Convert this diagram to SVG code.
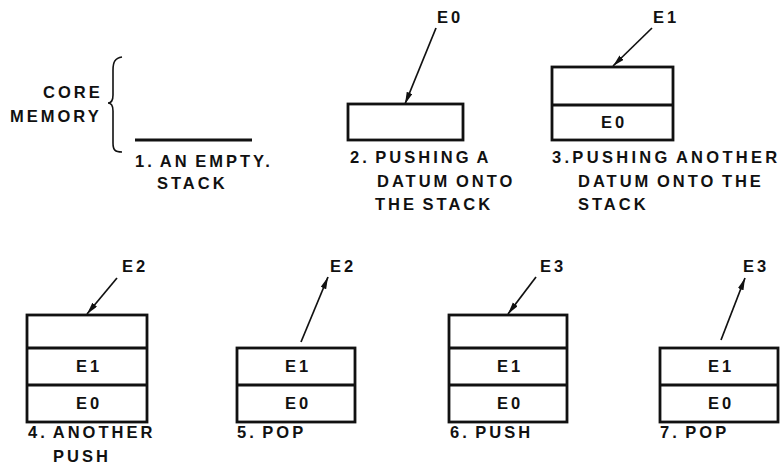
<svg xmlns="http://www.w3.org/2000/svg" width="780" height="476" viewBox="0 0 780 476">
<defs>
<style>
text{font-family:"Liberation Sans",Arial,sans-serif;font-weight:bold;font-size:16.5px;fill:#111;letter-spacing:3px;word-spacing:-2px}
.c{text-anchor:middle}
.box{fill:none;stroke:#111;stroke-width:2.8}
.div{stroke:#111;stroke-width:2.8}
.arr{stroke:#111;stroke-width:1.7;fill:none;marker-end:url(#ah)}
</style>
<marker id="ah" markerUnits="userSpaceOnUse" markerWidth="14" markerHeight="8" refX="12" refY="3" orient="auto">
<path d="M0,0 L12,3 L0,6 z" fill="#111"/>
</marker>
</defs>
<rect width="780" height="476" fill="#fff"/>
<g id="core-memory">
<path d="M122,57 C115,58 113,62 113,70 L113,95 C113,100 111,103 108,103 C111,103 113,106 113,111 L113,143 C113,150 115,152 122,152" fill="none" stroke="#111" stroke-width="1.6"/>
<text x="43" y="98">CORE</text>
<text x="10" y="122">MEMORY</text>
</g>
<g id="step1">
<line x1="135" y1="140" x2="252" y2="140" stroke="#111" stroke-width="3"/>
<text x="135" y="167">1. AN EMPTY.</text>
<text x="157" y="189">STACK</text>
</g>
<g id="step2">
<rect class="box" x="348" y="104" width="115" height="36"/>
<text x="437" y="23">E0</text>
<text x="350" y="163">2. PUSHING A</text>
<text x="377" y="187">DATUM ONTO</text>
<text x="375" y="210">THE STACK</text>
</g>
<g id="step3">
<rect class="box" x="552" y="67" width="121" height="73"/>
<line class="div" x1="552" y1="105" x2="673" y2="105"/>
<text class="c" x="614" y="128">E0</text>
<text x="653" y="23">E1</text>
<text x="552" y="163" style="letter-spacing:3.3px">3.PUSHING ANOTHER</text>
<text x="578" y="187">DATUM ONTO THE</text>
<text x="578" y="210">STACK</text>
</g>
<g id="step4">
<rect class="box" x="27" y="315" width="120" height="107"/>
<line class="div" x1="27" y1="348" x2="147" y2="348"/>
<line class="div" x1="27" y1="385" x2="147" y2="385"/>
<text class="c" x="89" y="372">E1</text>
<text class="c" x="89" y="409">E0</text>
<text x="122" y="272">E2</text>
<text x="28" y="438">4. ANOTHER</text>
<text x="53" y="462">PUSH</text>
</g>
<g id="step5">
<rect class="box" x="237" y="348" width="118" height="74"/>
<line class="div" x1="237" y1="385" x2="355" y2="385"/>
<text class="c" x="298" y="372">E1</text>
<text class="c" x="298" y="409">E0</text>
<text x="330" y="272">E2</text>
<text x="237" y="438">5. POP</text>
</g>
<g id="step6">
<rect class="box" x="449" y="315" width="118" height="107"/>
<line class="div" x1="449" y1="348" x2="567" y2="348"/>
<line class="div" x1="449" y1="385" x2="567" y2="385"/>
<text class="c" x="510" y="372">E1</text>
<text class="c" x="510" y="409">E0</text>
<text x="540" y="272">E3</text>
<text x="450" y="438">6. PUSH</text>
</g>
<g id="step7">
<rect class="box" x="660" y="348" width="118" height="74"/>
<line class="div" x1="660" y1="385" x2="778" y2="385"/>
<text class="c" x="721" y="372">E1</text>
<text class="c" x="721" y="409">E0</text>
<text x="743" y="272">E3</text>
<text x="660" y="438">7. POP</text>
</g>
<g id="connectors">
<line class="arr" x1="436" y1="28" x2="405" y2="104"/>
<line class="arr" x1="652" y1="28" x2="613" y2="66"/>
<line class="arr" x1="117" y1="278" x2="87" y2="314"/>
<line class="arr" x1="301" y1="342" x2="328" y2="277"/>
<line class="arr" x1="536" y1="277" x2="508" y2="314"/>
<line class="arr" x1="721" y1="340" x2="745" y2="278"/>
</g>
</svg>
